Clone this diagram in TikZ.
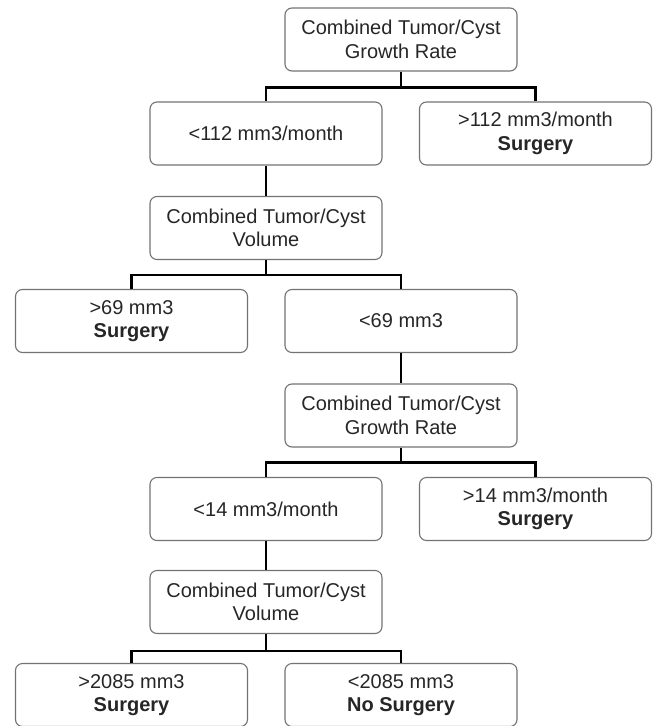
\documentclass[tikz,border=0pt]{standalone}
\usepackage{fontspec}
\setmainfont{Liberation Sans}
\usetikzlibrary{positioning,calc}

\begin{document}
\begin{tikzpicture}[x=1pt,y=-1pt,
  box/.style={rectangle,draw=black!55,line width=1.1pt,rounded corners=7pt,minimum width=232pt,minimum height=63pt,align=center,inner sep=2pt,text=black!85,font=\fontsize{20}{23.5}\selectfont},
  link/.style={line width=2.6pt,black}
]
  \useasboundingbox (0,0) rectangle (654,726);
  % first split: growth rate
  \node[box] (rate1)  at (401,39.5)   {Combined Tumor/Cyst\\Growth Rate};
  \node[box] (lt112)  at (266,133.5)  {<112 mm3/month};
  \node[box] (gt112)  at (535.5,133.5){>112 mm3/month\\\textbf{Surgery}};
  % second split: volume
  \node[box] (vol1)   at (266,228)    {Combined Tumor/Cyst\\Volume};
  \node[box] (gt69)   at (131.5,321)  {>69 mm3\\\textbf{Surgery}};
  \node[box] (lt69)   at (401,321)    {<69 mm3};
  % third split: growth rate
  \node[box] (rate2)  at (401,415.5)  {Combined Tumor/Cyst\\Growth Rate};
  \node[box] (lt14)   at (266,509)    {<14 mm3/month};
  \node[box] (gt14)   at (535.5,509)  {>14 mm3/month\\\textbf{Surgery}};
  % last split: volume
  \node[box] (vol2)   at (266,602)    {Combined Tumor/Cyst\\Volume};
  \node[box] (gt2085) at (131.5,695)  {>2085 mm3\\\textbf{Surgery}};
  \node[box] (lt2085) at (401,695)    {<2085 mm3\\\textbf{No Surgery}};
  \draw[link] (rate1.south) -- ++(0,16) -| (lt112.north);
  \draw[link] (rate1.south) -- ++(0,16) -| (gt112.north);
  \draw[link] (lt112.south) -- (vol1.north);
  \draw[link] (vol1.south) -- ++(0,15) -| (gt69.north);
  \draw[link] (vol1.south) -- ++(0,15) -| (lt69.north);
  \draw[link] (lt69.south) -- (rate2.north);
  \draw[link] (rate2.south) -- ++(0,15) -| (lt14.north);
  \draw[link] (rate2.south) -- ++(0,15) -| (gt14.north);
  \draw[link] (lt14.south) -- (vol2.north);
  \draw[link] (vol2.south) -- ++(0,17) -| (gt2085.north);
  \draw[link] (vol2.south) -- ++(0,17) -| (lt2085.north);
\end{tikzpicture}
\end{document}
